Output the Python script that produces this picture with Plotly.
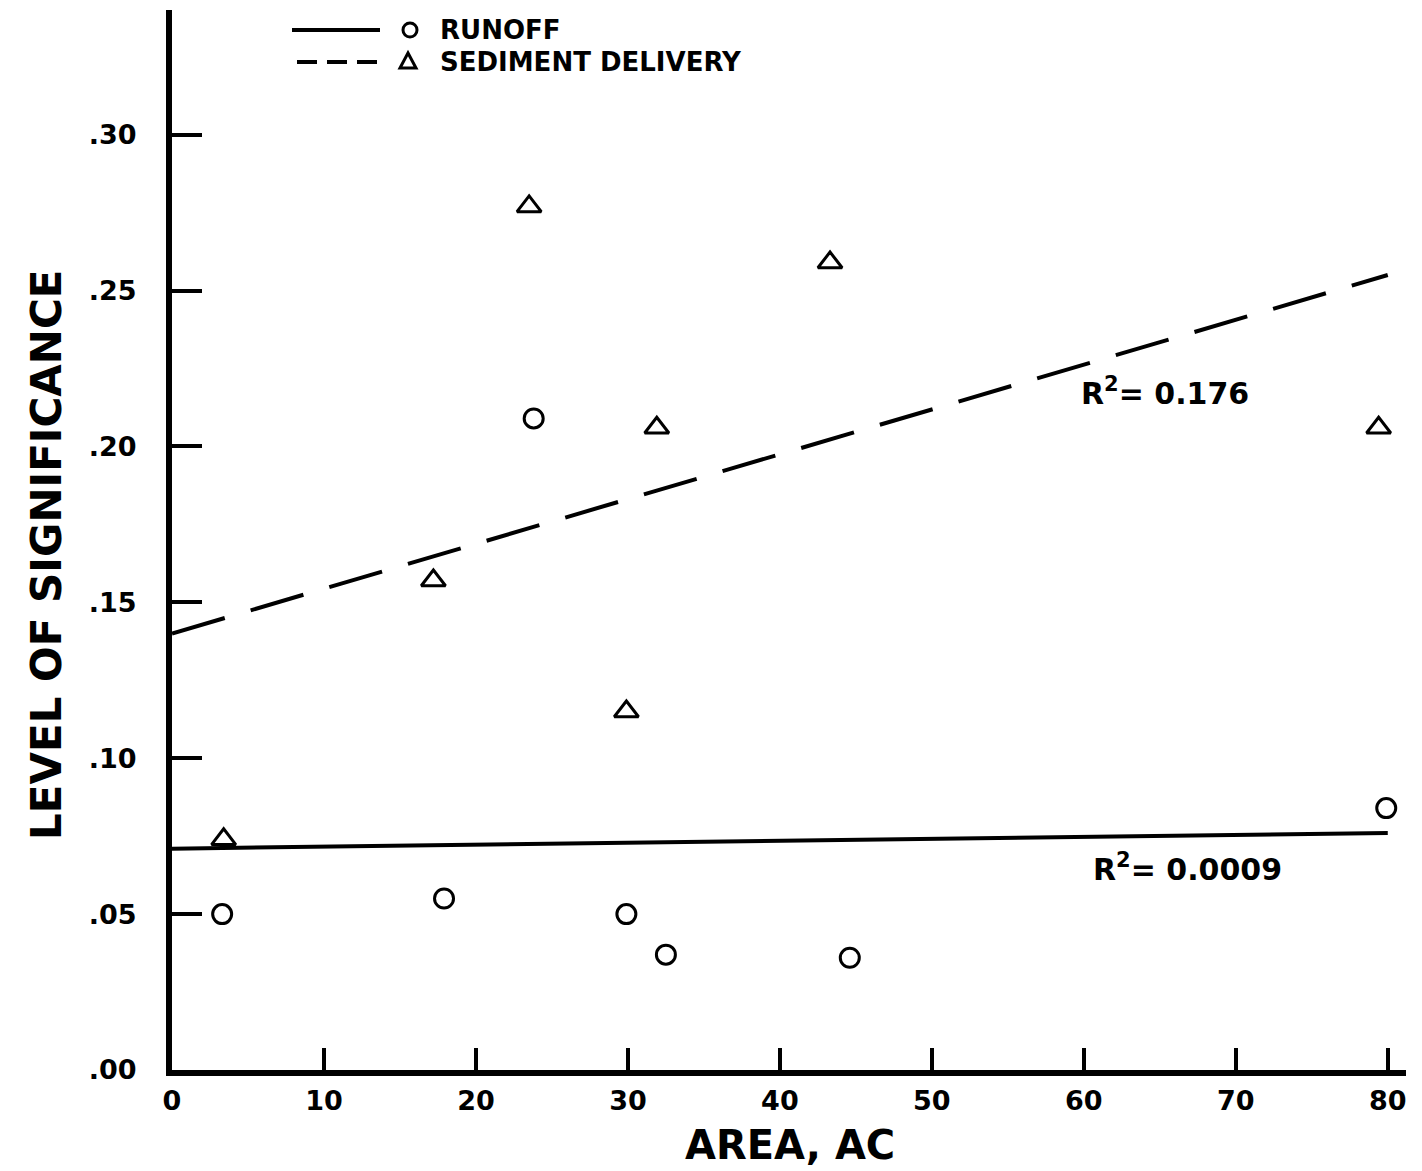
import plotly.graph_objects as go

# Data
runoff_area = [3.3, 17.9, 23.8, 29.9, 32.5, 44.6, 79.9]
runoff_sig = [0.050, 0.055, 0.209, 0.050, 0.037, 0.036, 0.084]
sed_area = [3.4, 17.2, 23.5, 29.9, 31.9, 43.3, 79.4]
sed_sig = [0.074, 0.157, 0.277, 0.115, 0.206, 0.259, 0.206]
runoff_fit_x = [0, 80]
runoff_fit_y = [0.071, 0.076]
sed_fit_x = [0, 80]
sed_fit_y = [0.140, 0.255]
x_ticks = [0, 10, 20, 30, 40, 50, 60, 70, 80]
y_ticks = [0.0, 0.05, 0.10, 0.15, 0.20, 0.25, 0.30]
y_tick_text = [".00", ".05", ".10", ".15", ".20", ".25", ".30"]

FONT = "DejaVu Sans"
INK = "black"

fig = go.Figure()
fig.add_trace(go.Scatter(x=runoff_fit_x, y=runoff_fit_y, mode="lines",
                         line=dict(color=INK, width=4), showlegend=False))
fig.add_trace(go.Scatter(x=sed_fit_x, y=sed_fit_y, mode="lines",
                         line=dict(color=INK, width=4, dash="55px,27px"), showlegend=False))
fig.add_trace(go.Scatter(x=runoff_area, y=runoff_sig, mode="markers",
                         marker=dict(symbol="circle-open", size=19, color=INK, line=dict(width=3)),
                         showlegend=False))
fig.add_trace(go.Scatter(x=sed_area, y=sed_sig, mode="markers",
                         marker=dict(symbol="triangle-up-open", size=21, color=INK, line=dict(width=3)),
                         showlegend=False))

OFF = 8  # page offset of the figure inside the window
W, H = 1414, 1163
L, T = 172 - OFF, 10 - OFF
R = W - (1406 - OFF)
B = H - (1070 - OFF)
pw, ph = W - L - R, H - T - B

def px(x):
    return (x - OFF - L) / pw

def py(y):
    return (H - B - (y - OFF)) / ph

tri = "M -8 -6 L 8 -6 L 0 9 Z"
shapes = [
    dict(type="line", xref="paper", yref="paper", x0=px(292), x1=px(380), y0=py(30), y1=py(30),
         line=dict(color=INK, width=4)),
    dict(type="line", xref="paper", yref="paper", x0=px(297), x1=px(385), y0=py(62), y1=py(62),
         line=dict(color=INK, width=4, dash="20px,10px")),
    dict(type="circle", xref="paper", yref="paper", xsizemode="pixel", ysizemode="pixel",
         xanchor=px(410), yanchor=py(30), x0=-7, x1=7, y0=-7, y1=7,
         line=dict(color=INK, width=3)),
    dict(type="path", xref="paper", yref="paper", xsizemode="pixel", ysizemode="pixel",
         xanchor=px(408), yanchor=py(62), path=tri, line=dict(color=INK, width=3)),
]

annotations = [
    dict(xref="paper", yref="paper", x=px(438), y=py(30), text="<b>RUNOFF</b>", showarrow=False,
         font=dict(family=FONT, size=26, color=INK), xanchor="left", yanchor="middle"),
    dict(xref="paper", yref="paper", x=px(438), y=py(62), text="<b>SEDIMENT DELIVERY</b>", showarrow=False,
         font=dict(family=FONT, size=26, color=INK), xanchor="left", yanchor="middle"),
    dict(x=59.7, y=0.2175, text="<b>R<sup>2</sup>= 0.176</b>", showarrow=False,
         font=dict(family=FONT, size=30, color=INK), xanchor="left", yanchor="middle"),
    dict(x=60.5, y=0.0648, text="<b>R<sup>2</sup>= 0.0009</b>", showarrow=False,
         font=dict(family=FONT, size=30, color=INK), xanchor="left", yanchor="middle"),
    dict(xref="paper", yref="paper", x=px(47), y=py(555), text="<b>LEVEL OF SIGNIFICANCE</b>",
         showarrow=False, textangle=-90, font=dict(family=FONT, size=42, color=INK),
         xanchor="center", yanchor="middle"),
    dict(xref="paper", yref="paper", x=px(790), y=py(1145), text="<b>AREA, AC</b>",
         showarrow=False, font=dict(family=FONT, size=40, color=INK),
         xanchor="center", yanchor="middle"),
]

fig.update_layout(
    width=W, height=H,
    margin=dict(l=L, r=R, t=T, b=B, autoexpand=False),
    paper_bgcolor="white", plot_bgcolor="white",
    showlegend=False,
    shapes=shapes,
    annotations=annotations,
    xaxis=dict(range=[0, 81.2], tickvals=x_ticks, ticks="inside", ticklen=22, tickwidth=4,
               tickcolor=INK, showline=True, linewidth=6, linecolor=INK, showgrid=False,
               zeroline=False, ticklabelstandoff=2,
               tickfont=dict(family=FONT, size=27, color=INK, weight="bold")),
    yaxis=dict(range=[0, 0.34], tickvals=y_ticks, ticktext=y_tick_text, ticks="inside",
               ticklen=30, tickwidth=4, tickcolor=INK, showline=True, linewidth=6,
               linecolor=INK, showgrid=False, zeroline=False, ticklabelstandoff=24,
               tickfont=dict(family=FONT, size=27, color=INK, weight="bold")),
)

fig.write_html("out.html")
